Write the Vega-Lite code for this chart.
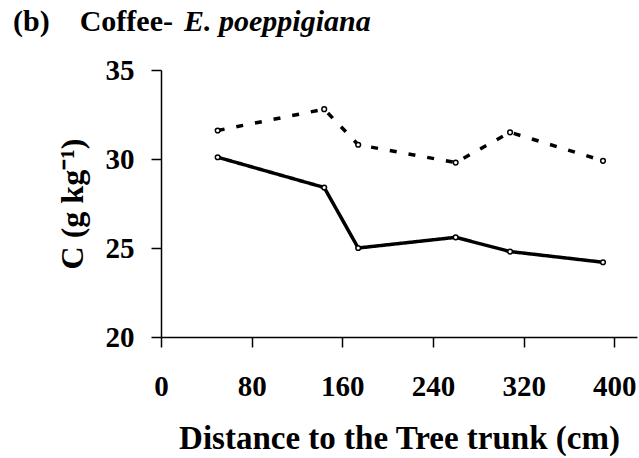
{
  "$schema": "https://vega.github.io/schema/vega-lite/v6.json",
  "autosize": {"type": "none"},
  "padding": {"left": 161, "top": 70, "right": 2, "bottom": 121},
  "width": 476,
  "height": 267,
  "background": "white",
  "title": {
    "text": "(b)\u2002\u2002Coffee-",
    "subtitle": "\u200b\u2002\u2002\u2002\u2002\u2002\u2002\u2002\u2002\u2002\u2002\u2002\u2009E. poeppigiana",
    "anchor": "start",
    "frame": "group",
    "dx": -148,
    "offset": 19,
    "font": "Liberation Serif",
    "fontSize": 30,
    "fontWeight": "bold",
    "lineHeight": 30,
    "subtitleFont": "Liberation Serif",
    "subtitleFontSize": 30,
    "subtitleFontWeight": "bold",
    "subtitleFontStyle": "italic",
    "subtitleLineHeight": 30,
    "subtitlePadding": -30,
    "subtitleColor": "black",
    "color": "black"
  },
  "data": {
    "values": [
      {"distance": 50, "C": 31.6, "series": "Series 1"},
      {"distance": 144, "C": 32.8, "series": "Series 1"},
      {"distance": 174, "C": 30.8, "series": "Series 1"},
      {"distance": 260, "C": 29.8, "series": "Series 1"},
      {"distance": 308, "C": 31.5, "series": "Series 1"},
      {"distance": 390, "C": 29.9, "series": "Series 1"},
      {"distance": 50, "C": 30.1, "series": "Series 2"},
      {"distance": 144, "C": 28.4, "series": "Series 2"},
      {"distance": 174, "C": 25.0, "series": "Series 2"},
      {"distance": 260, "C": 25.6, "series": "Series 2"},
      {"distance": 308, "C": 24.8, "series": "Series 2"},
      {"distance": 390, "C": 24.2, "series": "Series 2"}
    ]
  },
  "encoding": {
    "x": {
      "field": "distance",
      "type": "quantitative",
      "scale": {"domain": [0, 420], "nice": false, "zero": true},
      "axis": {
        "values": [0, 80, 160, 240, 320, 400],
        "title": "Distance to the Tree trunk (cm)",
        "grid": false,
        "domainColor": "black",
        "domainWidth": 1.5,
        "tickColor": "black",
        "tickWidth": 1.5,
        "tickSize": 10,
        "labelFont": "Liberation Serif",
        "labelFontSize": 29,
        "labelFontWeight": "bold",
        "labelColor": "black",
        "labelPadding": 25,
        "labelFlush": false,
        "titleFont": "Liberation Serif",
        "titleFontSize": 33,
        "titleFontWeight": "bold",
        "titleColor": "black",
        "titlePadding": 21
      }
    },
    "y": {
      "field": "C",
      "type": "quantitative",
      "scale": {"domain": [20, 35], "nice": false, "zero": false},
      "axis": {
        "values": [20, 25, 30, 35],
        "title": "C (g kg\u207b\u00b9)",
        "grid": false,
        "domainColor": "black",
        "domainWidth": 1.5,
        "tickColor": "black",
        "tickWidth": 1.5,
        "tickSize": 10,
        "labelFont": "Liberation Serif",
        "labelFontSize": 29,
        "labelFontWeight": "bold",
        "labelColor": "black",
        "labelPadding": 17,
        "labelFlush": false,
        "titleFont": "Liberation Serif",
        "titleFontSize": 32,
        "titleFontWeight": "bold",
        "titleColor": "black",
        "titlePadding": 16
      }
    }
  },
  "layer": [
    {
      "mark": {"type": "line", "color": "black", "strokeWidth": 3.5},
      "encoding": {
        "detail": {"field": "series"},
        "strokeDash": {
          "field": "series",
          "type": "nominal",
          "scale": {"domain": ["Series 1", "Series 2"], "range": [[7, 12], [1, 0]]},
          "legend": null
        }
      }
    },
    {
      "mark": {"type": "point", "shape": "circle", "filled": true, "fill": "white", "stroke": "black", "strokeWidth": 1.5, "size": 22, "opacity": 1}
    }
  ],
  "config": {"view": {"stroke": null}}
}
